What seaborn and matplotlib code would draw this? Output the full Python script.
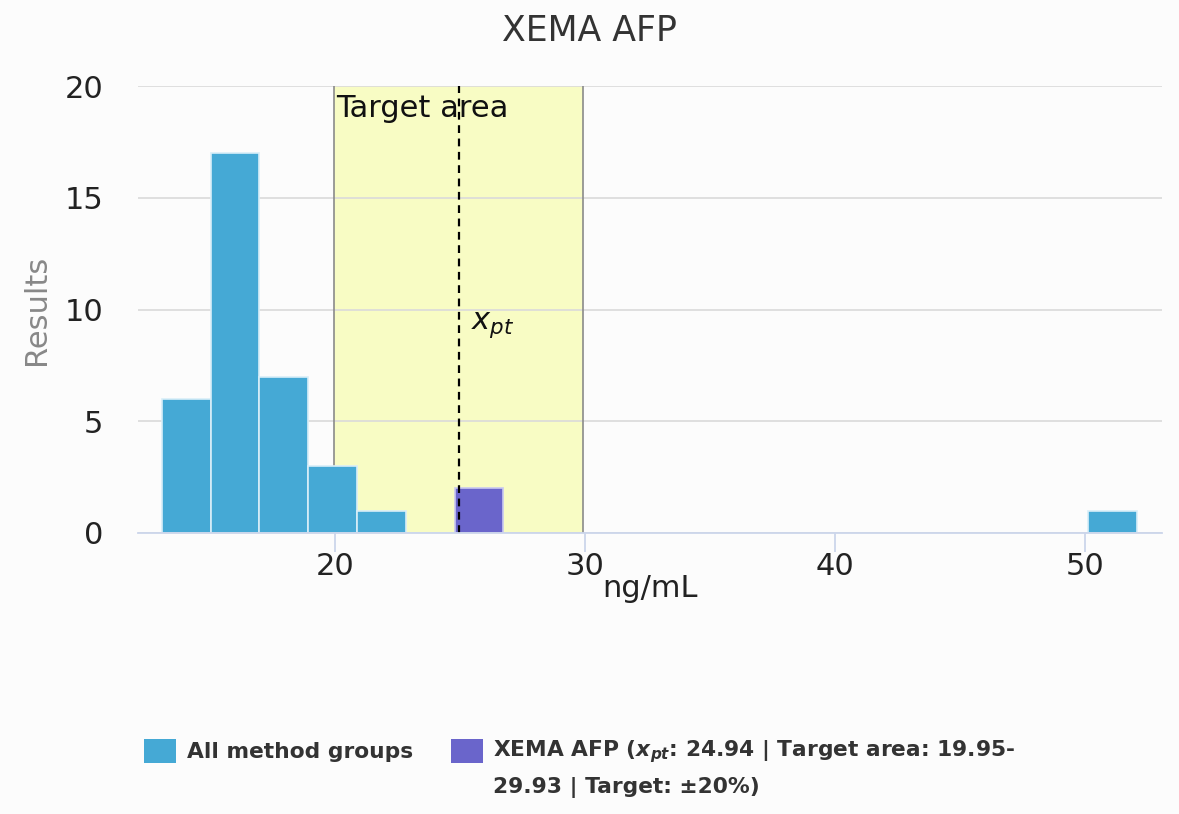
import matplotlib
matplotlib.use("Agg")
import matplotlib.pyplot as plt
from matplotlib.patches import Rectangle
import seaborn as sns

# ---- data ----
bin_edges = [13.08, 15.03, 16.98, 18.93, 20.88, 22.83, 24.78, 26.73]
all_groups_counts = [6, 17, 7, 3, 1, 0, 0]
last_bin_edges = [50.13, 52.08]
last_bin_counts = [1]
xema_bin_edges = [24.78, 26.73]
xema_counts = [2]
x_pt = 24.94
target_low, target_high = 19.95, 29.93
x_ticks = [20, 30, 40, 50]
y_ticks = [0, 5, 10, 15, 20]
legend_labels = ["All method groups",
                 "XEMA AFP ($\\mathbfit{x}_{\\mathbfit{pt}}$: 24.94 | Target area: 19.95-",
                 "29.93 | Target: ±20%)"]

blue = "#45a9d5"
purple = "#6a65cb"
W, H = 1179, 814

sns.set_style("white")
plt.rcParams['font.family'] = ['DejaVu Sans']

fig = plt.figure(figsize=(W / 100, H / 100), dpi=100, facecolor="#fcfcfc")
ax = fig.add_axes([138 / W, 1 - 533 / H, (1162 - 138) / W, (533 - 86) / H])
ax.set_facecolor("#fcfcfc")

# target area
ax.axvspan(target_low, target_high, ymin=0, ymax=1, color="#f8fcc4", zorder=0.5, lw=0)
ax.vlines([target_low, target_high], 0, 20, color="#8a8a8a", lw=1.2, zorder=1.5)
ax.vlines([x_pt], 0, 20, color="black", lw=1.6, linestyles=(0, (3.5, 2.5)), zorder=4)

# histograms
centers = [(bin_edges[i] + bin_edges[i + 1]) / 2 for i in range(len(all_groups_counts))]
sns.histplot(x=centers, weights=all_groups_counts, bins=bin_edges, ax=ax,
             color=blue, alpha=1, edgecolor="#d8eef8", linewidth=1.2, zorder=3)
sns.histplot(x=[(last_bin_edges[0] + last_bin_edges[1]) / 2], weights=last_bin_counts,
             bins=last_bin_edges, ax=ax, color=blue, alpha=1, edgecolor="#d8eef8",
             linewidth=1.2, zorder=3)
sns.histplot(x=[(xema_bin_edges[0] + xema_bin_edges[1]) / 2], weights=xema_counts,
             bins=xema_bin_edges, ax=ax, color=purple, alpha=1, edgecolor="#c8c8f0",
             linewidth=1.2, zorder=3)

ax.set_xlim(12.12, 53.08)
ax.set_ylim(0, 20)
ax.set_xticks(x_ticks)
ax.set_yticks(y_ticks)
ax.grid(axis="y", color="#dadada", lw=1.2, zorder=0)
ax.set_axisbelow(True)
for s in ["top", "right", "left"]:
    ax.spines[s].set_visible(False)
ax.spines["bottom"].set_color("#ccd6eb")
ax.spines["bottom"].set_linewidth(1.3)
ax.spines["bottom"].set_zorder(5)
ax.tick_params(axis="x", length=13.5, width=1.3, color="#ccd6eb", labelsize=22,
               labelcolor="#222222", pad=0, direction="out", bottom=True)
ax.tick_params(axis="y", length=0, labelsize=22, labelcolor="#222222", pad=25)

ax.set_xlabel("ng/mL", fontsize=22, color="#222222", va="top")
ax.xaxis.set_label_coords(0.5, (533 - 574) / 447)
ax.set_ylabel("Results", fontsize=22, color="#888888", va="center")
ax.yaxis.set_label_coords((37 - 138) / 1024, 0.5)

ax.text(target_low + 0.1, 18.6, "Target area", fontsize=22, color="#111111",
        ha="left", va="baseline", zorder=6)
ax.text(x_pt + 0.5, 9.15, r"$x_{pt}$", fontsize=22, color="#111111",
        ha="left", va="baseline", zorder=6)

fig.text(0.5, 1 - 41 / H, "XEMA AFP", fontsize=25, color="#333333", ha="center", va="baseline")

# legend
def px_rect(x0, y0, w, h, color):
    fig.add_artist(Rectangle((x0 / W, 1 - (y0 + h) / H), w / W, h / H,
                             transform=fig.transFigure, facecolor=color, edgecolor="none"))

px_rect(144, 739, 32, 24, blue)
px_rect(451, 739, 32, 24, purple)
leg_kw = dict(fontsize=15.7, fontweight="bold", color="#333333", ha="left", va="center")
fig.text(187 / W, 1 - 752 / H, legend_labels[0], **leg_kw)
fig.text(493 / W, 1 - 752 / H, legend_labels[1], **leg_kw)
fig.text(493 / W, 1 - 788 / H, legend_labels[2], **leg_kw)

fig.savefig("out.png", dpi=100, facecolor=fig.get_facecolor())
